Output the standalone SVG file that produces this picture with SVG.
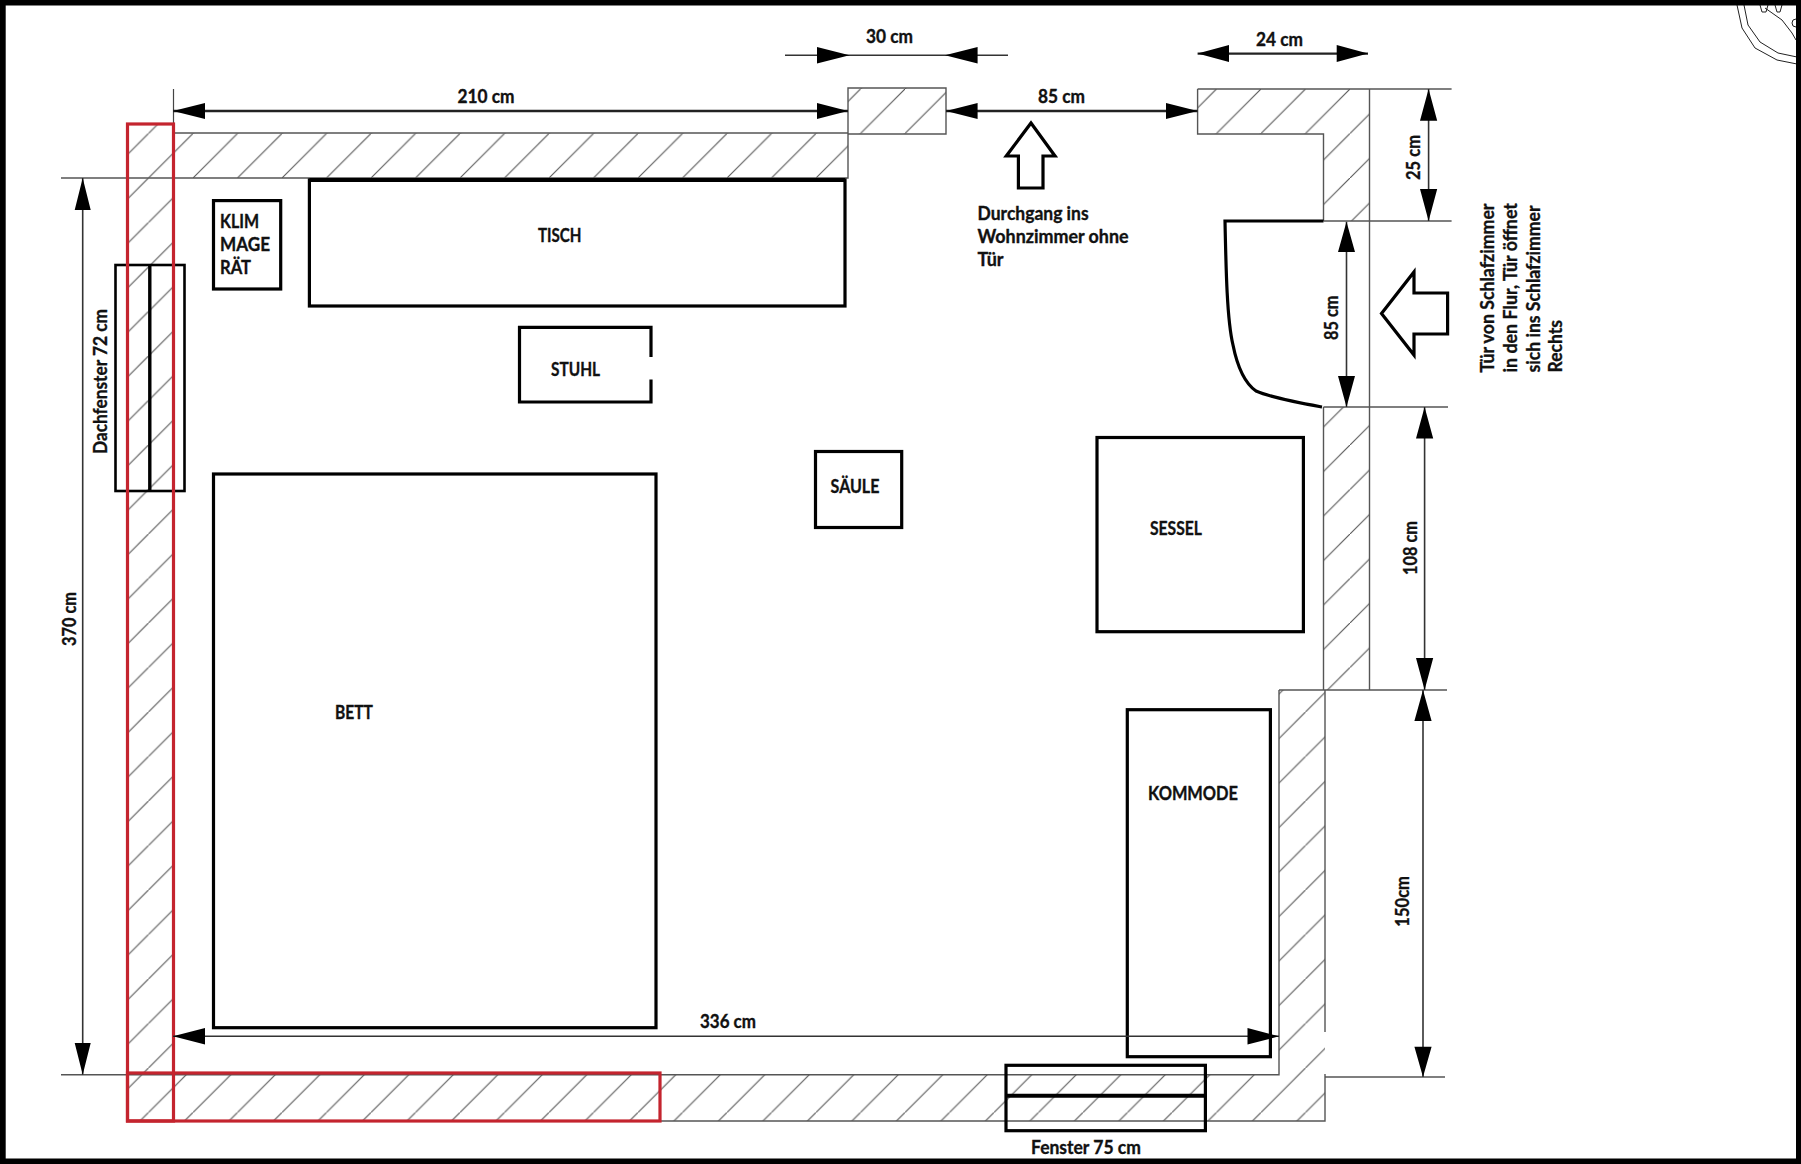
<svg xmlns="http://www.w3.org/2000/svg" width="1801" height="1164" viewBox="0 0 1801 1164">
<style>
.t{font-family:"Lato","Liberation Sans",sans-serif;font-weight:700;font-size:18px;fill:#111;stroke:#111;stroke-width:.35}
.f{fill:none;stroke:#000;stroke-width:3.2}
.w{fill:none;stroke:#555;stroke-width:1.4}
.d{fill:none;stroke:#333;stroke-width:1.6}
.d2{fill:none;stroke:#222;stroke-width:2.4}
.h{fill:#000;stroke:none}
.r{fill:none;stroke:#c4242e;stroke-width:3.2}
</style>
<defs>
<pattern id="hatch" patternUnits="userSpaceOnUse" width="44.5" height="44.5" patternTransform="translate(15,0)">
<path d="M-2 46.5L46.5-2" stroke="#555" stroke-width="1.1" fill="none"/>
</pattern>
</defs>
<rect width="1801" height="1164" fill="#fff"/>

<g id="walls">
<path fill="url(#hatch)" stroke="none" d="M127.5 124H173.5V1121H127.5ZM173.5 133H848V178H173.5ZM848 88H946V134H848ZM1197.6 89H1369.5V221H1323.5V134H1197.6ZM1323.5 407H1369.5V690H1323.5ZM1279 690H1325V1121H1279ZM173.5 1074.7H1279V1121H173.5Z"/>
<path class="w" d="M848 88H946V134H848ZM848 133H173.5M848 134V178H61M1197.6 89H1451.6M1197.6 89V134H1323.5V221M1369.5 89V690M1323.5 221H1451.6M1323.5 407H1448M1323.5 407V690M1279 690H1447M1279 690V1074.7H61M1325 690V1032M1325 1074V1121H127.5M1325 1077H1445"/>
<path d="M173.5 89V124" fill="none" stroke="#444" stroke-width="1.2"/>
</g>

<g id="fenster-dach"><rect class="f" style="stroke-width:2.6" x="115.5" y="265" width="69" height="226"/><path d="M149.8 265V491" stroke="#000" stroke-width="3.4" fill="none"/></g>
<g id="fenster"><rect class="f" x="1006" y="1065.3" width="199.4" height="65.4"/><path d="M1006 1095.7H1205.4" stroke="#000" stroke-width="4" fill="none"/></g>

<g id="rot">
<rect class="r" x="127.5" y="124" width="46" height="997"/>
<rect class="r" x="127.5" y="1073" width="532.5" height="48"/>
</g>

<g id="klimagerät"><rect class="f" x="213.5" y="200.6" width="67.2" height="88.4"/></g>
<g id="tisch"><rect class="f" x="309.4" y="180" width="535.6" height="126"/><path d="M309.4 180H845" stroke="#000" stroke-width="4" fill="none"/></g>
<g id="stuhl"><path class="f" d="M651 357V327.4H519.5V402H651V379.5"/></g>
<g id="saeule"><rect class="f" x="815.5" y="451.5" width="86.2" height="76"/></g>
<g id="bett"><rect class="f" x="213.5" y="474" width="442.5" height="553.7"/></g>
<g id="sessel"><rect class="f" x="1097" y="437.5" width="206.4" height="194.2"/></g>
<g id="kommode"><rect class="f" x="1127.3" y="709.7" width="143.1" height="347"/></g>
<g id="tuer"><path class="f" d="M1323.5 221H1225C1226 270 1227 320 1233 345C1238 370 1246 384 1256 391C1272 398 1300 403 1322 407"/></g>

<g id="pfeile">
<path class="f" d="M1031 123L1055 156H1043V188H1018.4V156H1006.3Z"/>
<path class="f" d="M1381.5 313.5L1414 272V293H1447.6V334H1414V355Z"/>
</g>

<g id="connectors">
<path class="d2" d="M173 111H848"/><path class="h" d="M173 111L205 103V119ZM848 111L817 103V119Z"/>
<path class="d" d="M785 55.3H1008"/><path class="h" d="M849.5 55.3L817 47V63.5ZM945 55.3L977.6 47V63.5Z"/>
<path class="d2" d="M1197.6 53.6H1368"/><path class="h" d="M1197.6 53.6L1229 45V62ZM1368 53.6L1336.7 45V62Z"/>
<path class="d2" d="M946 111H1197.6"/><path class="h" d="M946 111L977.6 103V119ZM1197.6 111L1166 103V119Z"/>
<path class="d" d="M1428.6 89V221"/><path class="h" d="M1428.6 89L1420 120.7H1437.2ZM1428.6 221L1420 189H1437.2Z"/>
<path class="d" d="M1346.5 221.7V407"/><path class="h" d="M1346.5 221.7L1338 252H1355ZM1346.5 407L1338 376H1355Z"/>
<path class="d" d="M1424.6 407V690"/><path class="h" d="M1424.6 407L1416 438.4H1433.2ZM1424.6 690L1416 658H1433.2Z"/>
<path class="d" d="M1423 690V1077"/><path class="h" d="M1423 690L1414.4 721H1431.6ZM1423 1077L1414.4 1046.7H1431.6Z"/>
<path class="d" d="M82.7 178V1074.7"/><path class="h" d="M82.7 178L74.7 210H90.7ZM82.7 1074.7L74.7 1043H90.7Z"/>
<path class="d" d="M173 1036.3H1279"/><path class="h" d="M173 1036.3L205 1028V1044.6ZM1279 1036.3L1247.5 1028V1044.6Z"/>
</g>

<g id="labels">
<text class="t" x="866" y="43" textLength="47" lengthAdjust="spacingAndGlyphs">30 cm</text>
<text class="t" x="1256" y="46.4" textLength="47" lengthAdjust="spacingAndGlyphs">24 cm</text>
<text class="t" x="1038" y="103" textLength="47" lengthAdjust="spacingAndGlyphs">85 cm</text>
<text class="t" x="457.5" y="103" textLength="57" lengthAdjust="spacingAndGlyphs">210 cm</text>
<text class="t" x="538" y="242" textLength="43.5" lengthAdjust="spacingAndGlyphs">TISCH</text>
<text class="t" x="220" y="228" textLength="39" lengthAdjust="spacingAndGlyphs">KLIM</text>
<text class="t" x="220" y="250.6" textLength="50" lengthAdjust="spacingAndGlyphs">MAGE</text>
<text class="t" x="220" y="274" textLength="31" lengthAdjust="spacingAndGlyphs">RÄT</text>
<text class="t" x="551" y="375.6" textLength="49" lengthAdjust="spacingAndGlyphs">STUHL</text>
<text class="t" x="830.6" y="492.7" textLength="48.8" lengthAdjust="spacingAndGlyphs">SÄULE</text>
<text class="t" x="335" y="719" textLength="38" lengthAdjust="spacingAndGlyphs">BETT</text>
<text class="t" x="1150" y="534.5" textLength="52" lengthAdjust="spacingAndGlyphs">SESSEL</text>
<text class="t" x="1148" y="800" textLength="90" lengthAdjust="spacingAndGlyphs">KOMMODE</text>
<text class="t" x="1031" y="1154" textLength="110" lengthAdjust="spacingAndGlyphs">Fenster 75 cm</text>
<text class="t" x="700" y="1028" textLength="56" lengthAdjust="spacingAndGlyphs">336 cm</text>
<text class="t" x="977.6" y="219.6" textLength="111" lengthAdjust="spacingAndGlyphs">Durchgang ins</text>
<text class="t" x="977.6" y="243" textLength="151" lengthAdjust="spacingAndGlyphs">Wohnzimmer ohne</text>
<text class="t" x="977.6" y="265.7" textLength="26" lengthAdjust="spacingAndGlyphs">Tür</text>
<text class="t" transform="translate(106.8,454) rotate(-90)" textLength="145" lengthAdjust="spacingAndGlyphs">Dachfenster 72 cm</text>
<text class="t" transform="translate(76,646) rotate(-90)" textLength="54" lengthAdjust="spacingAndGlyphs">370 cm</text>
<text class="t" transform="translate(1420,180) rotate(-90)" textLength="45" lengthAdjust="spacingAndGlyphs">25 cm</text>
<text class="t" transform="translate(1337.8,340) rotate(-90)" textLength="44.5" lengthAdjust="spacingAndGlyphs">85 cm</text>
<text class="t" transform="translate(1416.7,575) rotate(-90)" textLength="54" lengthAdjust="spacingAndGlyphs">108 cm</text>
<text class="t" transform="translate(1409,926.7) rotate(-90)" textLength="50.7" lengthAdjust="spacingAndGlyphs">150cm</text>
<text class="t" transform="translate(1493.5,372.5) rotate(-90)" textLength="169" lengthAdjust="spacingAndGlyphs">Tür von Schlafzimmer</text>
<text class="t" transform="translate(1516.5,372.5) rotate(-90)" textLength="169.5" lengthAdjust="spacingAndGlyphs">in den Flur, Tür öffnet</text>
<text class="t" transform="translate(1539.6,372.5) rotate(-90)" textLength="167" lengthAdjust="spacingAndGlyphs">sich ins Schlafzimmer</text>
<text class="t" transform="translate(1562,372.5) rotate(-90)" textLength="52.5" lengthAdjust="spacingAndGlyphs">Rechts</text>
</g>

<g id="ecke" fill="none" stroke="#222" stroke-width="1">
<path d="M1737 5L1742 28L1755 48L1777 60L1797 64"/>
<path d="M1744 5L1748 25L1760 42L1778 53L1797 57"/>
<path d="M1765 8L1782 20L1792 33L1796 40"/>
<path d="M1760 5L1762 12H1766L1768 5M1775 5L1777 12H1780L1782 5"/>
<circle cx="1796" cy="23" r="4"/>
</g>

<g id="rahmen">
<path fill-rule="evenodd" d="M0 0H1801V1164H0ZM5.7 5.5V1158.5H1796V5.5Z" fill="#000"/>
</g>
</svg>
